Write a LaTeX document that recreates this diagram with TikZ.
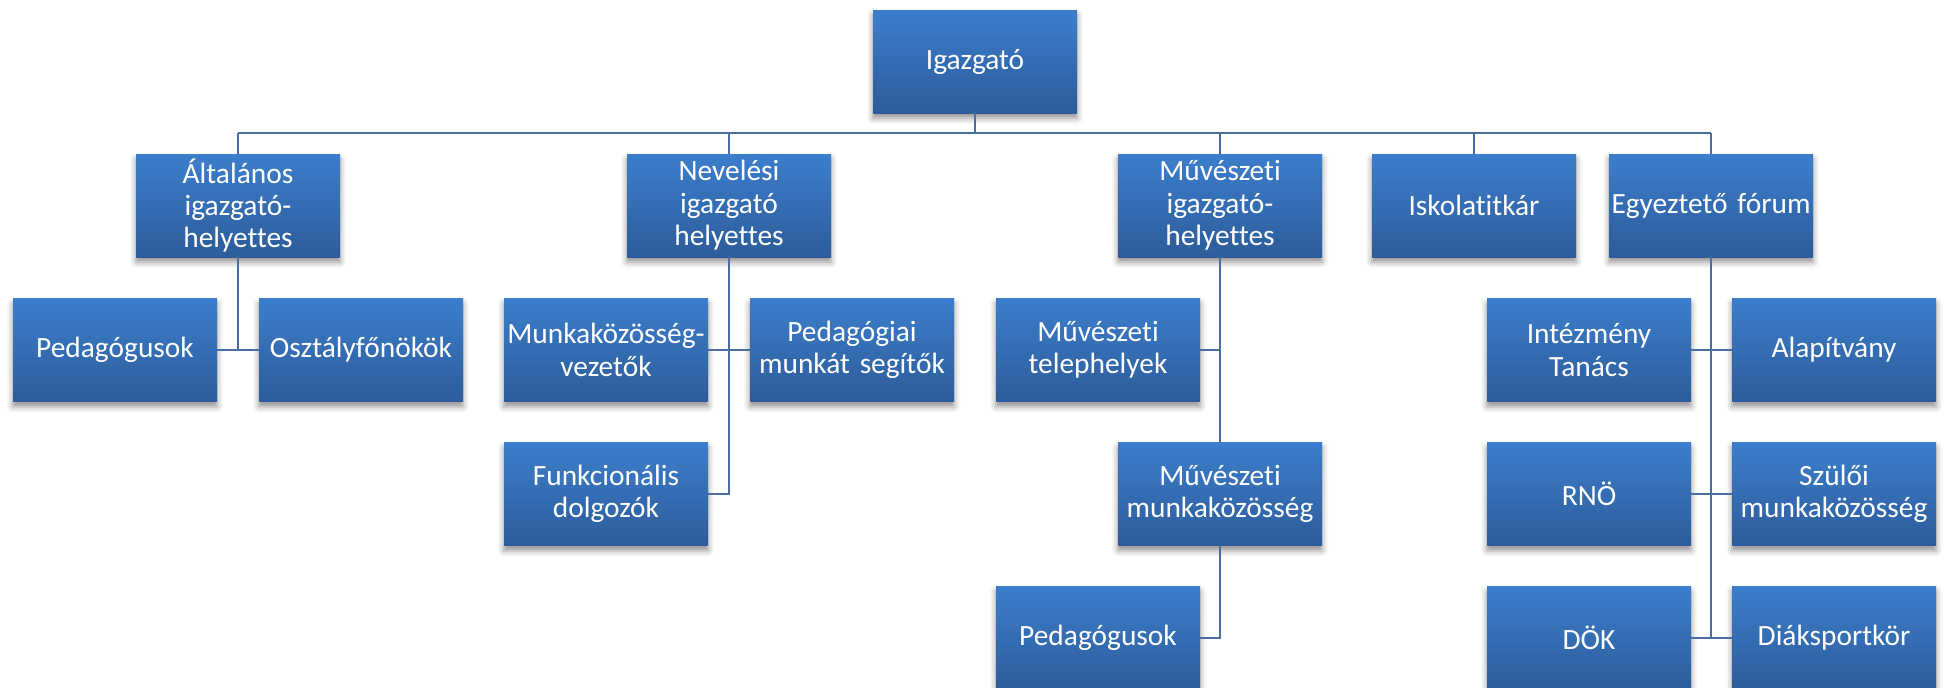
\documentclass[tikz,border=0pt]{standalone}
\usepackage{fontspec}
\setmainfont{Carlito}[Ligatures={NoCommon}]
\usetikzlibrary{shadows.blur}
\definecolor{boxtop}{HTML}{3C7ECC}
\definecolor{boxbot}{HTML}{2D5C9A}
\definecolor{linec}{HTML}{4A6E9E}
\tikzset{
 orgbox/.style={rectangle, minimum width=102pt, minimum height=51.5pt, text width=102pt,
   inner sep=0pt, align=center, top color=boxtop, bottom color=boxbot, text=white,
   font=\fontsize{14.7pt}{16.2pt}\selectfont,
   blur shadow={shadow xshift=0pt, shadow yshift=-2.5pt, shadow blur radius=3pt, shadow opacity=45}},
 conn/.style={draw=linec, line width=1.1pt}
}
\begin{document}
\begin{tikzpicture}[x=0.5pt,y=-0.5pt]
\useasboundingbox (0,0) rectangle (1950,687);
\clip (0,0) rectangle (1950,687);
\coordinate (bus) at (975,133);
% level 0 / 1
\node[orgbox] (ig) at (975,61.5) {Igazgató};
\node[orgbox] (alt) at (238,205.5) {Általános\\igazgató-\\helyettes};
\node[orgbox] (nev) at (729,205.5) {Nevelési\\igazgató\\helyettes};
\node[orgbox] (muv) at (1220,205.5) {Művészeti\\igazgató-\\helyettes};
\node[orgbox] (isk) at (1474,205.5) {Iskolatitkár};
\node[orgbox] (egy) at (1711,205.5) {Egyeztető fórum};
% level 2
\node[orgbox] (ped) at (115,350) {Pedagógusok};
\node[orgbox] (osz) at (361,350) {Osztályfőnökök};
\node[orgbox] (mkv) at (606,350) {Munkaközösség-\\vezetők};
\node[orgbox] (pms) at (852,350) {Pedagógiai\\munkát segítők};
\node[orgbox] (fun) at (606,494) {Funkcionális\\dolgozók};
\node[orgbox] (mtel) at (1098,350) {Művészeti\\telephelyek};
\node[orgbox] (mmk) at (1220,494) {Művészeti\\munkaközösség};
\node[orgbox] (ped2) at (1098,638) {Pedagógusok};
\node[orgbox] (int) at (1589,350) {Intézmény\\Tanács};
\node[orgbox] (alap) at (1834,350) {Alapítvány};
\node[orgbox] (rno) at (1589,494) {RNÖ};
\node[orgbox] (szm) at (1834,494) {Szülői\\munkaközösség};
\node[orgbox] (dok) at (1589,638) {DÖK};
\node[orgbox] (dsk) at (1834,638) {Diáksportkör};
% bus
\draw[conn] (ig.south) -- (ig.south |- bus);
\draw[conn] (alt.north |- bus) -- (egy.north |- bus);
\foreach \n in {alt,nev,muv,isk,egy} {\draw[conn] (\n.north) -- (\n.north |- bus);}
% Altalanos
\draw[conn] (alt.south) -- (alt.south |- ped.east);
\draw[conn] (ped.east) -- (osz.west);
% Nevelesi
\draw[conn] (nev.south) -- (nev.south |- fun.east) -- (fun.east);
\draw[conn] (mkv.east) -- (pms.west);
% Muveszeti
\draw[conn] (muv.south) -- (mmk.north);
\draw[conn] (mtel.east) -- (mtel.east -| muv.south);
\draw[conn] (mmk.south) -- (mmk.south |- ped2.east) -- (ped2.east);
% Egyezteto
\draw[conn] (egy.south) -- (egy.south |- dok.east);
\draw[conn] (int.east) -- (alap.west);
\draw[conn] (rno.east) -- (szm.west);
\draw[conn] (dok.east) -- (dsk.west);
\end{tikzpicture}
\end{document}
